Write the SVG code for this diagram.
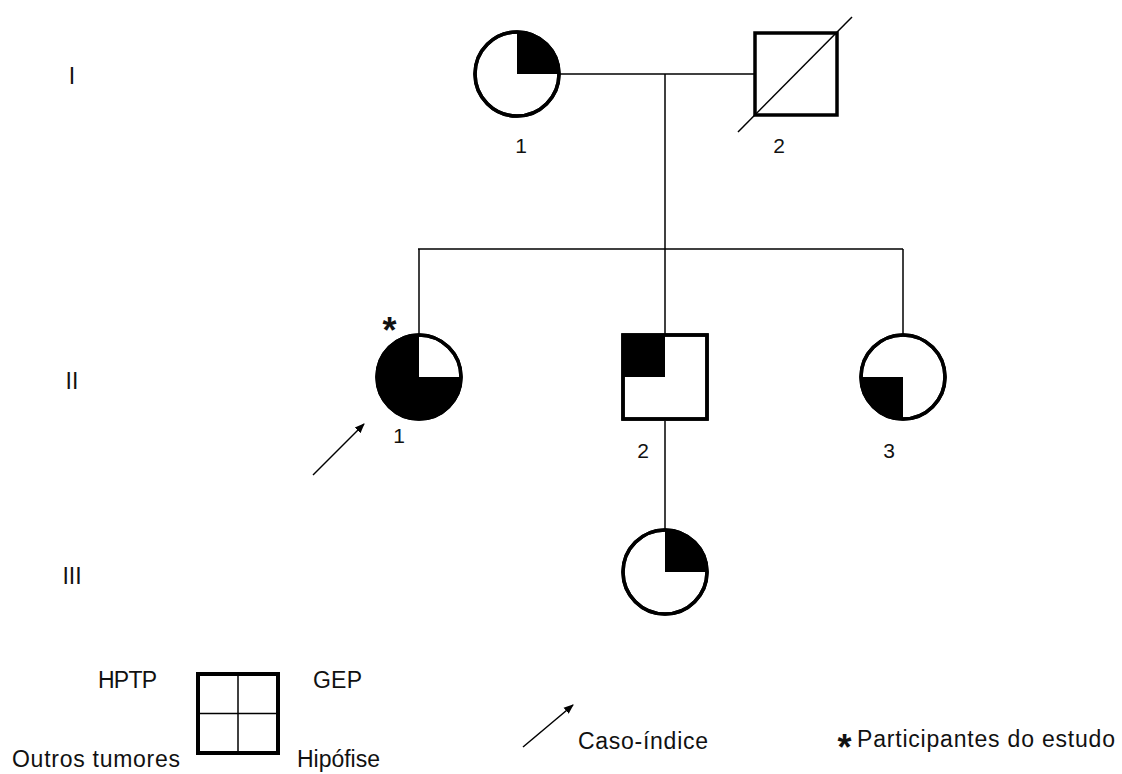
<svg xmlns="http://www.w3.org/2000/svg" width="1122" height="774" viewBox="0 0 1122 774">
<style>
.t{font-family:"Liberation Sans",Arial,sans-serif;fill:#111}
.gen{font-size:23px;text-anchor:middle}
.num{font-size:21px;text-anchor:middle}
.leg{font-size:23px}
.ast{font-size:36px;font-weight:bold;text-anchor:middle}
.sym{fill:#fff;stroke:#000;stroke-width:3.5}
.q{fill:#000;stroke:none}
.ln{stroke:#000;stroke-width:1.5;fill:none}
</style>
<defs>
<marker id="ah" viewBox="0 0 10 10" refX="9" refY="5" markerWidth="10" markerHeight="10" markerUnits="userSpaceOnUse" orient="auto">
<path d="M0,1 L10,5 L0,9 Z" fill="#000"/>
</marker>
</defs>
<rect width="1122" height="774" fill="#fff"/>

<g id="generations">
<text class="t gen" x="72" y="84">I</text>
<text class="t gen" x="72" y="389">II</text>
<text class="t gen" x="72" y="584">III</text>
</g>

<g id="connectors">
<line class="ln" x1="559" y1="74" x2="755" y2="74"/>
<line class="ln" x1="665" y1="74" x2="665" y2="335"/>
<line class="ln" x1="418" y1="249" x2="903" y2="249"/>
<line class="ln" x1="419" y1="249" x2="419" y2="335"/>
<line class="ln" x1="903" y1="249" x2="903" y2="335"/>
<line class="ln" x1="665" y1="421" x2="665" y2="530"/>
</g>

<g id="I-1">
<circle class="sym" cx="517" cy="74" r="42"/>
<path class="q" d="M517,74 L517,32 A42,42 0 0 1 559,74 Z"/>
<circle cx="517" cy="74" r="42" fill="none" stroke="#000" stroke-width="3.5"/>
<text class="t num" x="521" y="153">1</text>
</g>

<g id="I-2">
<rect class="sym" x="755" y="33" width="82" height="82" stroke-width="4"/>
<line class="ln" x1="738" y1="132" x2="852" y2="17"/>
<text class="t num" x="779" y="153">2</text>
</g>

<g id="II-1">
<circle class="sym" cx="419" cy="377" r="42"/>
<path class="q" d="M419,377 L419,335 A42,42 0 1 0 461,377 Z"/>
<circle cx="419" cy="377" r="42" fill="none" stroke="#000" stroke-width="3.5"/>
<text class="t ast" x="389.5" y="343">*</text>
<text class="t num" x="399" y="443">1</text>
<line class="ln" x1="313" y1="475" x2="364" y2="424" marker-end="url(#ah)"/>
</g>

<g id="II-2">
<rect class="sym" x="623" y="335" width="84" height="84"/>
<rect class="q" x="623" y="335" width="42" height="42"/>
<rect x="623" y="335" width="84" height="84" fill="none" stroke="#000" stroke-width="3.5"/>
<text class="t num" x="643" y="458">2</text>
</g>

<g id="II-3">
<circle class="sym" cx="903" cy="377" r="42"/>
<path class="q" d="M903,377 L903,419 A42,42 0 0 1 861,377 Z"/>
<circle cx="903" cy="377" r="42" fill="none" stroke="#000" stroke-width="3.5"/>
<text class="t num" x="889" y="458">3</text>
</g>

<g id="III-1">
<circle class="sym" cx="665" cy="572" r="42"/>
<path class="q" d="M665,572 L665,530 A42,42 0 0 1 707,572 Z"/>
<circle cx="665" cy="572" r="42" fill="none" stroke="#000" stroke-width="3.5"/>
</g>

<g id="legend-quadrants">
<rect x="198" y="674" width="80" height="79" fill="#fff" stroke="#000" stroke-width="4"/>
<line class="ln" x1="238" y1="674" x2="238" y2="753"/>
<line class="ln" x1="198" y1="713.5" x2="278" y2="713.5"/>
<text class="t leg" x="98" y="688" textLength="59">HPTP</text>
<text class="t leg" x="313" y="688" textLength="49">GEP</text>
<text class="t leg" x="12" y="767" textLength="168">Outros tumores</text>
<text class="t leg" x="297" y="767" textLength="83">Hipófise</text>
</g>

<g id="legend-index">
<line class="ln" x1="523" y1="747" x2="573" y2="705" marker-end="url(#ah)"/>
<text class="t leg" x="578" y="749" textLength="130">Caso-índice</text>
</g>

<g id="legend-participants">
<text class="t ast" x="844.5" y="760">*</text>
<text class="t leg" x="857" y="747" textLength="258">Participantes do estudo</text>
</g>
</svg>
